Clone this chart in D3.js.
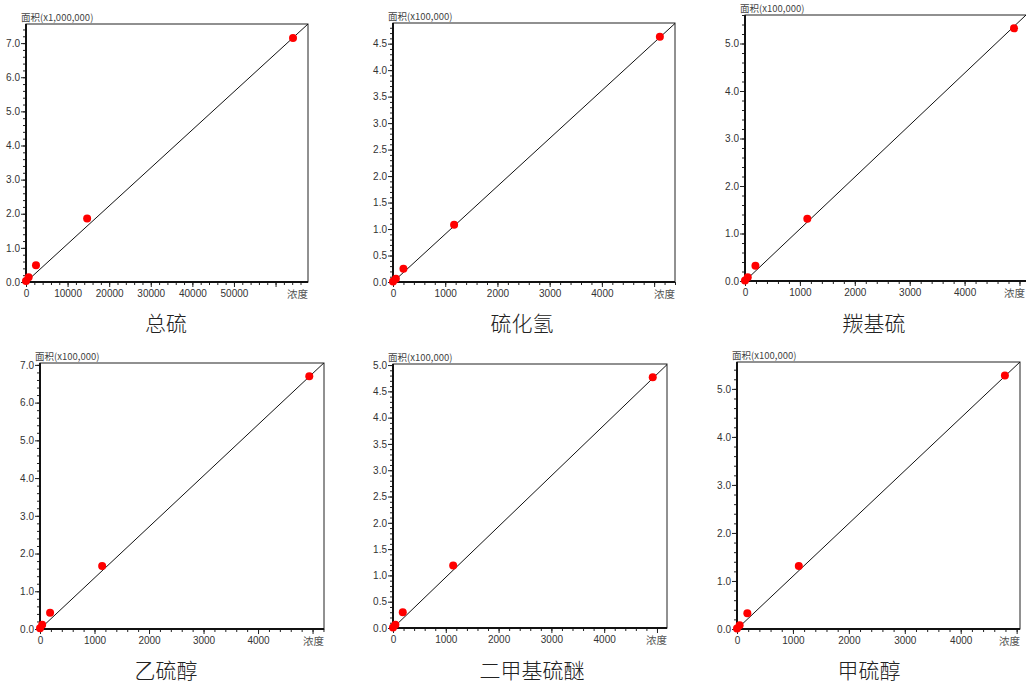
<!DOCTYPE html>
<html>
<head>
<meta charset="utf-8">
<script src="https://cdn.jsdelivr.net/npm/d3@7"></script>
<style>
  html, body { margin: 0; padding: 0; background: #fff; }
  svg { display: block; }
  .tick text { font-family: "Liberation Sans", Arial, sans-serif; }
</style>
</head>
<body>
<svg id="chart" width="1026" height="684"></svg>
<script>
// ---------- DATA ----------
const titles = ["总硫", "硫化氢", "羰基硫", "乙硫醇", "二甲基硫醚", "甲硫醇"];
const yUnitLabels = ["面积(x1,000,000)", "面积(x100,000)", "面积(x100,000)", "面积(x100,000)", "面积(x100,000)", "面积(x100,000)"];
const xAxisName = "浓度";

// concentration values of calibration points per compound
const conc = [
  [0, 630, 2400, 14700, 64200],
  [0, 55, 200, 1170, 5110],
  [0, 50, 190, 1135, 4900],
  [0, 40, 185, 1140, 4940],
  [0, 45, 185, 1140, 4920],
  [0, 47, 185, 1105, 4790]
];
// area values (in the unit shown on each axis)
const area = [
  [0.03, 0.14, 0.49, 1.86, 7.15],
  [0.01, 0.06, 0.25, 1.08, 4.63],
  [0.01, 0.08, 0.32, 1.31, 5.32],
  [0.02, 0.11, 0.43, 1.67, 6.70],
  [0.01, 0.06, 0.30, 1.19, 4.77],
  [0.01, 0.08, 0.33, 1.31, 5.28]
];
// fitted calibration line: area = slope * conc + intercept
const fitSlope = [1.115e-4, 9.04e-4, 1.094e-3, 1.354e-3, 9.65e-4, 1.099e-3];
const fitIntercept = [0, 0, 0, 0, 0, 0];

// axis extents and tick steps
const xMax = [67800, 5400, 5155, 5210, 5190, 5060];
const yMax = [7.56, 4.89, 5.60, 7.05, 5.02, 5.56];
const xMajorStep = [10000, 1000, 1000, 1000, 1000, 1000];
const xMinorStep = [2000, 200, 200, 200, 200, 200];
const yMajorStep = [1.0, 0.5, 1.0, 1.0, 0.5, 1.0];
const yMinorStep = [0.2, 0.1, 0.2, 0.2, 0.1, 0.2];

// ---------- LAYOUT ----------
const layout = [
  { left: 26,  right: 308,  top: 24,  bottom: 282, titleX: 166, titleY: 331 },
  { left: 393, right: 675,  top: 23,  bottom: 282, titleX: 522, titleY: 331 },
  { left: 745, right: 1028, top: 15,  bottom: 281, titleX: 874, titleY: 331 },
  { left: 40,  right: 324,  top: 363, bottom: 629, titleX: 166, titleY: 678 },
  { left: 393, right: 667,  top: 364, bottom: 628, titleX: 532, titleY: 678 },
  { left: 737, right: 1020, top: 362, bottom: 629, titleX: 869, titleY: 678 }
];
const W = 1026, H = 684;

const svg = d3.select("#chart");
svg.append("rect").attr("width", W).attr("height", H).attr("fill", "#fff");

function range(start, stop, step) {
  const out = [];
  const n = Math.floor((stop - start) / step + 1e-6);
  for (let i = 0; i <= n; i++) out.push(+(start + i * step).toFixed(6));
  return out;
}

titles.forEach((title, i) => {
  const L = layout[i];
  const x = d3.scaleLinear().domain([0, xMax[i]]).range([L.left, L.right]);
  const y = d3.scaleLinear().domain([0, yMax[i]]).range([L.bottom, L.top]);
  const g = svg.append("g");

  const clipId = "clip" + i;
  g.append("clipPath").attr("id", clipId)
    .append("rect").attr("x", L.left).attr("y", L.top)
    .attr("width", L.right - L.left).attr("height", L.bottom - L.top);

  // frame (top / right)
  g.append("rect")
    .attr("x", L.left).attr("y", L.top)
    .attr("width", L.right - L.left).attr("height", L.bottom - L.top)
    .attr("fill", "none").attr("stroke", "#222").attr("stroke-width", 1);

  // minor ticks
  const xMinor = range(0, xMax[i], xMinorStep[i]);
  const yMinor = range(0, yMax[i], yMinorStep[i]);
  g.append("g").attr("transform", `translate(0,${L.bottom})`)
    .call(d3.axisBottom(x).tickValues(xMinor).tickSize(3).tickFormat(""))
    .call(a => a.select(".domain").remove())
    .call(a => a.selectAll("line").attr("stroke", "#222"));
  g.append("g").attr("transform", `translate(${L.left},0)`)
    .call(d3.axisLeft(y).tickValues(yMinor).tickSize(3).tickFormat(""))
    .call(a => a.select(".domain").remove())
    .call(a => a.selectAll("line").attr("stroke", "#222"));

  // major ticks
  const xMajor = range(0, xMax[i], xMajorStep[i]);
  const yMajor = range(0, yMax[i], yMajorStep[i]);
  const xa = g.append("g").attr("transform", `translate(0,${L.bottom})`)
    .call(d3.axisBottom(x).tickValues(xMajor).tickSize(5).tickPadding(3)
      .tickFormat(d => (L.right - x(d) < 42 ? "" : d3.format("d")(d))))
    .call(a => a.select(".domain").remove());
  xa.selectAll("line").attr("stroke", "#222");
  xa.selectAll("text").attr("fill", "#333").style("font-size", "10px");

  const ya = g.append("g").attr("transform", `translate(${L.left},0)`)
    .call(d3.axisLeft(y).tickValues(yMajor).tickSize(5).tickPadding(1)
      .tickFormat(d3.format(".1f")))
    .call(a => a.select(".domain").remove());
  ya.selectAll("line").attr("stroke", "#222");
  ya.selectAll("text").attr("fill", "#333").style("font-size", "10px");

  // axis lines (left and bottom, heavier)
  g.append("line").attr("x1", L.left).attr("x2", L.left)
    .attr("y1", L.top).attr("y2", L.bottom + 0.5)
    .attr("stroke", "#111").attr("stroke-width", 2);
  g.append("line").attr("x1", L.left - 0.5).attr("x2", L.right)
    .attr("y1", L.bottom).attr("y2", L.bottom)
    .attr("stroke", "#111").attr("stroke-width", 2);

  // fit line
  const lineData = [0, xMax[i]].map(c => [c, fitSlope[i] * c + fitIntercept[i]]);
  g.append("path")
    .attr("clip-path", `url(#${clipId})`)
    .attr("d", d3.line().x(d => x(d[0])).y(d => y(d[1]))(lineData))
    .attr("fill", "none").attr("stroke", "#111").attr("stroke-width", 1);

  // points
  g.selectAll("circle.pt").data(conc[i].map((c, k) => [c, area[i][k]]))
    .join("circle").attr("class", "pt")
    .attr("cx", d => x(d[0])).attr("cy", d => y(d[1]))
    .attr("r", 4).attr("fill", "#ff0000");

  // y unit label
  g.append("text")
    .attr("x", L.left - 5).attr("y", L.top - 3)
    .attr("font-family", "'Noto Sans CJK SC', 'Liberation Sans', sans-serif")
    .attr("font-size", 9.5).attr("fill", "#444")
    .text(yUnitLabels[i]);

  // x axis name
  g.append("text")
    .attr("x", Math.min(L.right, W - 1)).attr("y", L.bottom + 16)
    .attr("text-anchor", "end")
    .attr("font-family", "'Noto Sans CJK SC', sans-serif")
    .attr("font-size", 10.5).attr("fill", "#555")
    .text(xAxisName);

  // title
  svg.append("text")
    .attr("x", L.titleX).attr("y", L.titleY)
    .attr("text-anchor", "middle")
    .attr("font-family", "'Noto Sans CJK SC', sans-serif")
    .attr("font-weight", 300)
    .attr("font-size", 21).attr("fill", "#222")
    .text(title);
});
</script>
</body>
</html>
